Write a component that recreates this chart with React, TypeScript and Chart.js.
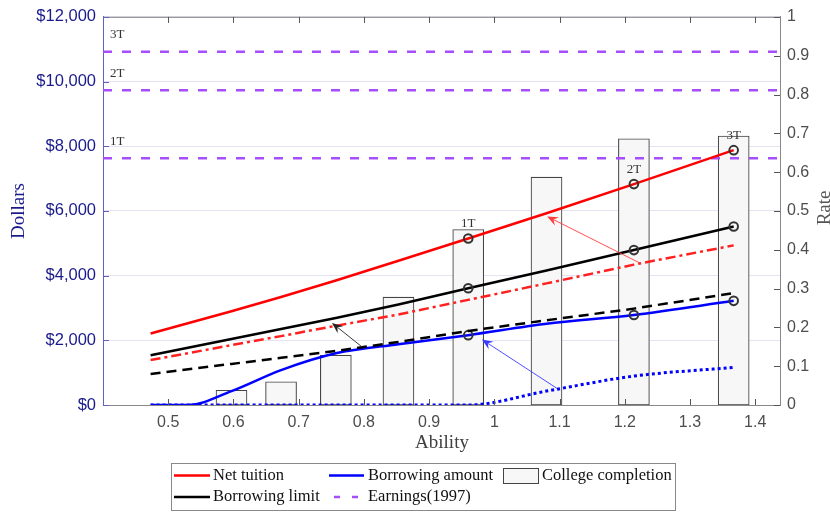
import { useEffect, useRef } from 'react';
import { Chart, registerables } from 'chart.js';

Chart.register(...registerables);

// ---------- data ----------
const ability = [0.473, 0.597, 0.673, 0.757, 0.853, 0.96, 1.08, 1.214, 1.367];
const completion = [0, 0.038, 0.06, 0.128, 0.278, 0.452, 0.587, 0.686, 0.693];
const netTuition = [2210, 2900, 3340, 3850, 4460, 5150, 5930, 6830, 7880];
const netTuitionAlt = [1390, 1850, 2130, 2450, 2800, 3250, 3760, 4340, 4935];
const borrowLimit = [1540, 2040, 2350, 2690, 3110, 3610, 4160, 4790, 5520];
const borrowLimitAlt = [960, 1270, 1460, 1670, 1950, 2290, 2620, 2980, 3460];
const borrowAbility = [0.473, 0.531, 0.597, 0.673, 0.757, 0.853, 0.96, 1.08, 1.214, 1.367];
const borrowAmount = [0, 0, 430, 1080, 1600, 1880, 2160, 2510, 2785, 3220];
const borrowAmountAlt = [0, 0, 0, 0, 0, 0, 430, 894, 1162];
const markerAbility = [0.96, 1.214, 1.367];
const markerLabels = ['1T', '2T', '3T'];
const earnings = [7630, 9730, 10920];
const earningsLabels = ['1T', '2T', '3T'];
const xTicks = [0.5, 0.6, 0.7, 0.8, 0.9, 1.0, 1.1, 1.2, 1.3, 1.4];
const xRange = [0.4, 1.438];
const arrowsTail = [
  [0.797, 1798],
  [1.225, 4371],
  [1.096, 515],
];
const arrowsHead = [
  [0.751, 2539],
  [1.081, 5830],
  [0.981, 2026],
];
const arrowColors = ['#222222', '#ff3b3b', '#3b3bff'];
const legendRow1 = ['Net tuition', 'Borrowing amount', 'College completion'];
const legendRow2 = ['Borrowing limit', 'Earnings(1997)'];

const SERIF = '"Liberation Serif", "Times New Roman", serif';
const SANS = '"Liberation Sans", Arial, sans-serif';
const NAVY = '#1a1a8c';
const GRAY = '#4d4d4d';
const PURPLE = '#a64dff';

const pts = (xs: number[], ys: number[]) => xs.map((x, i) => ({ x, y: ys[i] }));
const markerRadius = (ctx: any) => (ctx.raw && markerAbility.includes(ctx.raw.x) ? 4.3 : 0);

function drawArrow(ctx: CanvasRenderingContext2D, x1: number, y1: number, x2: number, y2: number, color: string) {
  const ang = Math.atan2(y2 - y1, x2 - x1);
  const c = Math.cos(ang), s = Math.sin(ang);
  const len = 11, half = 4.5, notch = 7;
  ctx.save();
  ctx.strokeStyle = color;
  ctx.fillStyle = color;
  ctx.lineWidth = 0.9;
  ctx.beginPath();
  ctx.moveTo(x1, y1);
  ctx.lineTo(x2 - c * notch, y2 - s * notch);
  ctx.stroke();
  const bx = x2 - c * len, by = y2 - s * len;
  ctx.beginPath();
  ctx.moveTo(x2, y2);
  ctx.lineTo(bx - s * half, by + c * half);
  ctx.lineTo(x2 - c * notch, y2 - s * notch);
  ctx.lineTo(bx + s * half, by - c * half);
  ctx.closePath();
  ctx.fill();
  ctx.restore();
}

const decorPlugin = {
  id: 'decor',
  afterDatasetsDraw(chart: any) {
    const { ctx, chartArea, scales } = chart;
    const xs = scales.x, ys = scales.y, yr = scales.y1;
    ctx.save();
    // top border
    ctx.strokeStyle = '#999999';
    ctx.lineWidth = 1.2;
    ctx.beginPath();
    ctx.moveTo(chartArea.left, chartArea.top + 0.5);
    ctx.lineTo(chartArea.right, chartArea.top + 0.5);
    ctx.stroke();
    // inward ticks
    ctx.lineWidth = 1;
    ctx.strokeStyle = '#555555';
    xTicks.forEach((v) => {
      const px = Math.round(xs.getPixelForValue(v)) + 0.5;
      ctx.beginPath();
      ctx.moveTo(px, chartArea.bottom);
      ctx.lineTo(px, chartArea.bottom - 6);
      ctx.moveTo(px, chartArea.top);
      ctx.lineTo(px, chartArea.top + 6);
      ctx.stroke();
    });
    yr.ticks.forEach((t: any) => {
      const py = Math.round(yr.getPixelForValue(t.value)) + 0.5;
      ctx.beginPath();
      ctx.moveTo(chartArea.right, py);
      ctx.lineTo(chartArea.right - 6, py);
      ctx.stroke();
    });
    ctx.strokeStyle = '#6060c0';
    ys.ticks.forEach((t: any) => {
      const py = Math.round(ys.getPixelForValue(t.value)) + 0.5;
      ctx.beginPath();
      ctx.moveTo(chartArea.left, py);
      ctx.lineTo(chartArea.left + 6, py);
      ctx.stroke();
    });
    // earnings labels
    ctx.fillStyle = '#333333';
    ctx.font = `13px ${SERIF}`;
    ctx.textAlign = 'left';
    ctx.textBaseline = 'middle';
    earnings.forEach((e, i) => {
      ctx.fillText(earningsLabels[i], chartArea.left + 7, ys.getPixelForValue(e) - 17);
    });
    // marker labels
    ctx.textAlign = 'center';
    markerAbility.forEach((a, i) => {
      const idx = ability.indexOf(a);
      const px = xs.getPixelForValue(a);
      const py = ys.getPixelForValue(netTuition[idx]);
      ctx.fillText(markerLabels[i], px, py - 15);
    });
    // arrows
    arrowsTail.forEach((t, i) => {
      const h = arrowsHead[i];
      drawArrow(
        ctx,
        xs.getPixelForValue(t[0]),
        ys.getPixelForValue(t[1]),
        xs.getPixelForValue(h[0]),
        ys.getPixelForValue(h[1]),
        arrowColors[i]
      );
    });
    ctx.restore();
  },
  afterDraw(chart: any) {
    const { ctx, chartArea } = chart;
    ctx.save();
    // axis titles
    ctx.textAlign = 'center';
    ctx.textBaseline = 'middle';
    ctx.font = `19px ${SERIF}`;
    ctx.fillStyle = NAVY;
    const midY = (chartArea.top + chartArea.bottom) / 2;
    ctx.save();
    ctx.translate(19, midY);
    ctx.rotate(-Math.PI / 2);
    ctx.fillText('Dollars', 0, 0);
    ctx.restore();
    ctx.fillStyle = '#555555';
    ctx.save();
    ctx.translate(825, midY - 3);
    ctx.rotate(-Math.PI / 2);
    ctx.fillText('Rate', 0, 0);
    ctx.restore();
    ctx.fillStyle = '#404040';
    ctx.fillText('Ability', 442, 443);

    // legend
    const L = 171.5, T = 463.5, W = 504, H = 47;
    ctx.fillStyle = '#ffffff';
    ctx.fillRect(L, T, W, H);
    ctx.strokeStyle = '#888888';
    ctx.lineWidth = 1;
    ctx.strokeRect(L, T, W, H);
    const r1 = 475.5, r2 = 497;
    const line = (x1: number, x2: number, y: number, color: string, dash: number[] = []) => {
      ctx.save();
      ctx.strokeStyle = color;
      ctx.lineWidth = 2.5;
      ctx.setLineDash(dash);
      ctx.beginPath();
      ctx.moveTo(x1, y);
      ctx.lineTo(x2, y);
      ctx.stroke();
      ctx.restore();
    };
    line(174, 210, r1, '#ff0000');
    line(329, 364, r1, '#0000ff');
    ctx.fillStyle = '#f7f7f7';
    ctx.fillRect(503.5, 468.5, 35, 15);
    ctx.strokeStyle = '#444444';
    ctx.strokeRect(503.5, 468.5, 35, 15);
    line(174, 210, r2, '#000000');
    line(334, 358, r2, PURPLE, [6, 12]);
    ctx.fillStyle = '#111111';
    ctx.font = `16.5px ${SERIF}`;
    ctx.textAlign = 'left';
    ctx.fillText(legendRow1[0], 213, r1);
    ctx.fillText(legendRow1[1], 368, r1);
    ctx.fillText(legendRow1[2], 542, r1);
    ctx.fillText(legendRow2[0], 213, r2);
    ctx.fillText(legendRow2[1], 368, r2);
    ctx.restore();
  },
};

export default function App() {
  const ref = useRef<HTMLCanvasElement | null>(null);
  useEffect(() => {
    if (!ref.current) return;
    const lineBase = {
      type: 'line' as const,
      yAxisID: 'y',
      borderWidth: 2.5,
      fill: false,
      pointStyle: 'circle' as const,
      pointBorderColor: '#333333',
      pointBackgroundColor: 'rgba(0,0,0,0)',
      pointBorderWidth: 2,
      pointHoverRadius: 0,
      order: 0,
    };
    const earningsSets = earnings.map((e) => ({
      type: 'line' as const,
      yAxisID: 'y',
      data: pts(xRange, [e, e]),
      borderColor: PURPLE,
      borderWidth: 2.5,
      borderDash: [9, 10],
      pointRadius: 0,
      fill: false,
      order: 5,
    }));
    const chart = new Chart(ref.current, {
      type: 'line',
      data: {
        datasets: [
          {
            type: 'bar',
            yAxisID: 'y1',
            data: pts(ability, completion),
            backgroundColor: '#f7f7f7',
            borderColor: '#444444',
            borderWidth: 1.1,
            borderSkipped: false,
            barThickness: 31,
            order: 10,
          } as any,
          ...earningsSets,
          { ...lineBase, data: pts(ability, netTuitionAlt), borderColor: '#ff2020', borderDash: [10, 4, 3, 4], pointRadius: 0 },
          { ...lineBase, data: pts(ability, borrowLimitAlt), borderColor: '#000000', borderDash: [10, 6], pointRadius: 0 },
          { ...lineBase, data: pts(ability, borrowAmountAlt), borderColor: '#0000ff', borderWidth: 3, borderDash: [3, 3], pointRadius: 0, cubicInterpolationMode: 'monotone' },
          { ...lineBase, data: pts(borrowAbility, borrowAmount), borderColor: '#0000ff', pointRadius: markerRadius, cubicInterpolationMode: 'monotone' },
          { ...lineBase, data: pts(ability, borrowLimit), borderColor: '#000000', pointRadius: markerRadius },
          { ...lineBase, data: pts(ability, netTuition), borderColor: '#ff0000', pointRadius: markerRadius },
        ] as any,
      },
      options: {
        responsive: false,
        animation: false,
        events: [],
        layout: { padding: { top: 16, left: 0, right: 0, bottom: 0 } },
        plugins: { legend: { display: false }, tooltip: { enabled: false } },
        scales: {
          x: {
            type: 'linear',
            position: 'bottom',
            min: xRange[0],
            max: xRange[1],
            offset: false,
            grid: { display: false, drawTicks: false },
            border: { display: true, color: '#888888', width: 1 },
            ticks: {
              color: GRAY,
              font: { family: SANS, size: 16 },
              padding: 8,
              maxRotation: 0,
              autoSkip: false,
              callback: (v: any) => String(Number(Number(v).toFixed(1))),
            },
            afterBuildTicks: (s: any) => {
              s.ticks = xTicks.map((v) => ({ value: v }));
            },
            afterFit: (s: any) => {
              s.height = 107;
            },
          },
          y: {
            type: 'linear',
            position: 'left',
            min: 0,
            max: 12000,
            grid: { color: '#e3e3f4', lineWidth: 1, drawTicks: false },
            border: { display: true, color: '#6060c0', width: 1 },
            ticks: {
              stepSize: 2000,
              color: NAVY,
              font: { family: SANS, size: 16.5 },
              padding: 7,
              callback: (v: any) => '$' + Number(v).toLocaleString('en-US'),
            },
            afterFit: (s: any) => {
              s.width = 103;
            },
          },
          y1: {
            type: 'linear',
            position: 'right',
            min: 0,
            max: 1,
            grid: { display: false, drawTicks: false },
            border: { display: true, color: '#888888', width: 1 },
            ticks: {
              stepSize: 0.1,
              color: GRAY,
              font: { family: SANS, size: 16 },
              padding: 7,
              callback: (v: any) => String(Number(Number(v).toFixed(1))),
            },
            afterFit: (s: any) => {
              s.width = 50;
            },
          },
        },
      },
      plugins: [decorPlugin],
    });
    return () => chart.destroy();
  }, []);
  return (
    <div style={{ position: 'fixed', left: 0, top: 0, width: 830, height: 512, background: '#fff' }}>
      <canvas ref={ref} width={830} height={512} style={{ display: 'block' }} />
    </div>
  );
}
